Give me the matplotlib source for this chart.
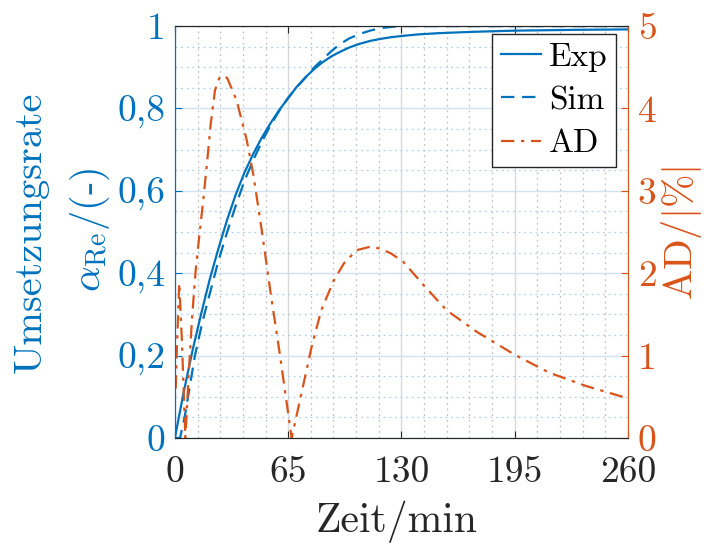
import numpy as np
import matplotlib
matplotlib.use('Agg')
import matplotlib.pyplot as plt
from matplotlib.ticker import MultipleLocator

plt.rcParams['font.family'] = 'cmr10'
plt.rcParams['mathtext.fontset'] = 'cm'
plt.rcParams['axes.unicode_minus'] = False

# Daten
t_exp = [0, 5, 10, 15, 20, 25, 30, 35, 40, 45, 50, 55, 60, 65, 70, 75, 80, 85, 90, 95, 100,
         106, 112, 118, 124, 130, 140, 152, 170, 195, 230, 260]
exp_vals = [0, 0.11, 0.21, 0.3, 0.385, 0.46, 0.53, 0.592, 0.645, 0.69, 0.73, 0.765, 0.797, 0.825,
            0.853, 0.876, 0.896, 0.913, 0.927, 0.938, 0.948, 0.957, 0.964, 0.969, 0.973, 0.976,
            0.98, 0.983, 0.986, 0.989, 0.991, 0.992]

t_sim = [0, 3, 6, 11.5, 16, 20, 25, 30, 35, 40, 45, 50, 55, 60, 65, 70, 75, 80, 85, 90, 95,
         100, 106, 112, 118, 124, 130, 260]
sim_vals = [0, 0, 0.06, 0.2, 0.285, 0.35, 0.43, 0.5, 0.565, 0.625, 0.675, 0.72, 0.76, 0.795,
            0.826, 0.852, 0.875, 0.9, 0.92, 0.94, 0.957, 0.97, 0.981, 0.989, 0.995, 0.998, 1.0, 1.0]

t_ad = [0.5, 1, 2.5, 4, 6, 8, 10, 12, 14, 16.3, 18.5, 20.5, 23, 25.5, 27.7, 30, 35.4, 41.2, 45,
        50, 55, 60, 64, 67, 71.8, 78.5, 84, 90.9, 97, 104.3, 111.9, 117.7, 124, 131, 142.5,
        155.9, 173.1, 195, 215, 236, 260]
ad_vals = [0.6, 1.0, 1.88, 1.2, 0.0, 0.8, 1.5, 2.05, 2.45, 2.89, 3.35, 3.8, 4.22, 4.37, 4.4, 4.37,
           4.1, 3.62, 3.2, 2.5, 1.75, 1.05, 0.45, 0.0, 0.46, 1.11, 1.55, 1.9, 2.12, 2.28, 2.32,
           2.3, 2.24, 2.14, 1.86, 1.55, 1.29, 1.01, 0.79, 0.63, 0.48]

x_ticks = [0, 65, 130, 195, 260]
y_ticks = [0, 0.2, 0.4, 0.6, 0.8, 1.0]
y_ticklabels = ['0', '0,2', '0,4', '0,6', '0,8', '1']
y2_ticks = [0, 1, 2, 3, 4, 5]

blue = '#0072BD'
orange = '#D95319'
dark = '#262626'

fig = plt.figure(figsize=(7.08, 5.44), dpi=100)
ax = fig.add_axes([0.247, 0.195, 0.64, 0.757])
ax2 = ax.twinx()

# Gitter
ax.set_axisbelow(True)
ax.xaxis.set_minor_locator(MultipleLocator(13))
ax.yaxis.set_minor_locator(MultipleLocator(0.05))
ax.grid(True, axis='x', which='major', color='#d9d9d9', lw=1.0)
ax.grid(True, axis='x', which='minor', color='#c0c0c0', lw=0.9, ls=(0, (1.5, 3)))
ax.grid(True, axis='y', which='major', color='#cfe2f3', lw=1.0)
ax.grid(True, axis='y', which='minor', color='#b0d0ec', lw=0.9, ls=(0, (1.5, 3)))

l1, = ax.plot(t_exp, exp_vals, color=blue, lw=1.6, label='Exp')
l2, = ax.plot(t_sim, sim_vals, color=blue, lw=1.6, ls=(0, (6, 3.5)), label='Sim')
l3, = ax2.plot(t_ad, ad_vals, color=orange, lw=1.6, ls=(0, (6, 3, 1.5, 3)), label='AD')

ax.set_xlim(0, 260)
ax.set_ylim(0, 1)
ax2.set_ylim(0, 5)

ax.set_xticks(x_ticks)
ax.set_xticklabels([str(v) for v in x_ticks])
ax.set_yticks(y_ticks)
ax.set_yticklabels(y_ticklabels)
ax2.set_yticks(y2_ticks)
ax2.set_yticklabels([str(v) for v in y2_ticks])

ax.tick_params(axis='x', which='major', direction='in', top=True, labelsize=27, colors=dark, length=5, pad=13)
ax.tick_params(axis='x', which='minor', length=0)
ax.tick_params(axis='y', which='major', direction='in', labelsize=27, colors=blue, length=5, pad=7)
ax.tick_params(axis='y', which='minor', length=0)
ax2.tick_params(axis='y', which='major', direction='in', labelsize=27, colors=orange, length=5, pad=7)

for s in ['top', 'bottom']:
    ax.spines[s].set_color(dark)
    ax2.spines[s].set_color(dark)
ax.spines['left'].set_color(blue)
ax2.spines['left'].set_color(blue)
ax2.spines['right'].set_color(orange)
ax.spines['right'].set_visible(False)

# Achsenbeschriftungen
fig.text(397 / 708, 1 - 522 / 544, 'Zeit/min', fontsize=30, color=dark, ha='center', va='center')
fig.text(31 / 708, 1 - 232 / 544, 'Umsetzungsrate', fontsize=29, color=blue,
         rotation=90, ha='center', va='center')
fig.text(90 / 708, 1 - 230 / 544, r'$\alpha_{\mathrm{Re}}$/(-)', fontsize=29, color=blue,
         rotation=90, ha='center', va='center')
fig.text(682 / 708, 1 - 233 / 544, r'AD$/|\%|$', fontsize=29, color=orange,
         rotation=90, ha='center', va='center')

leg = ax2.legend([l1, l2, l3], ['Exp', 'Sim', 'AD'], loc='upper right', bbox_to_anchor=(0.9735, 0.9806),
                 fontsize=24, frameon=True, fancybox=False, edgecolor=dark, framealpha=1,
                 handlelength=1.2, handletextpad=0.25, borderpad=0.25, labelspacing=0.42, borderaxespad=0)
leg.get_frame().set_linewidth(1.0)

fig.savefig('out.png', dpi=100)
